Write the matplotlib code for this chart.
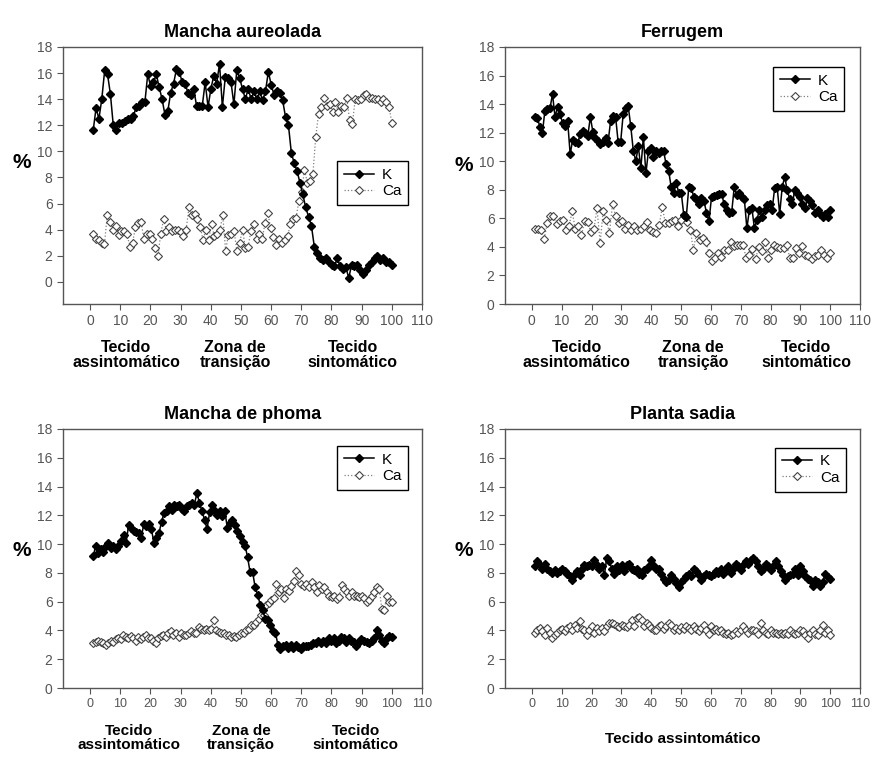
import numpy as np
import matplotlib
matplotlib.use("Agg")
import matplotlib.pyplot as plt
from matplotlib import font_manager

plt.rcParams['font.family'] = ['Liberation Sans', 'DejaVu Sans']

# ---- data ----
k_aureolada = [11.6, 13.3, 12.5, 14.0, 16.2, 15.9, 14.4, 12.0, 11.6, 12.2, 12.2, 12.3, 12.5, 12.5, 12.7,
               13.4, 13.5, 13.75, 13.75, 15.9, 15.0, 15.3, 15.9, 14.9, 14.0, 12.8, 13.1, 14.5, 15.2, 16.3,
               16.1, 15.3, 15.2, 14.5, 14.3, 14.8, 13.5, 13.5, 13.5, 15.3, 13.4, 14.8, 15.8, 15.2, 16.7,
               13.4, 15.7, 15.6, 15.3, 13.6, 16.2, 15.6, 14.8, 14.0, 14.8, 14.0, 14.6, 14.0, 14.6, 13.9,
               14.6, 16.1, 15.1, 14.3, 14.6, 14.5, 13.9, 12.6, 12.0, 9.9, 9.1, 8.5, 7.6, 6.7, 5.7,
               5.0, 4.3, 2.7, 2.2, 1.8, 1.7, 1.8, 1.5, 1.3, 1.2, 1.8, 1.2, 1.0, 1.1, 0.3,
               1.3, 1.2, 1.3, 0.9, 0.6, 0.9, 1.3, 1.5, 1.8, 2.0, 1.7, 1.8, 1.5, 1.5, 1.3]
ca_aureolada = [3.7, 3.3, 3.2, 3.0, 2.9, 5.1, 4.6, 4.0, 4.3, 3.6, 3.9, 3.9, 3.7, 2.7, 3.0,
                4.2, 4.5, 4.6, 3.3, 3.7, 3.7, 3.3, 2.6, 2.0, 3.7, 4.8, 3.9, 4.2, 3.9, 4.0,
                4.0, 3.8, 3.5, 4.0, 5.7, 5.1, 5.2, 4.8, 4.2, 3.2, 4.0, 3.2, 4.4, 3.5, 3.7,
                4.0, 5.1, 2.4, 3.6, 3.7, 3.9, 2.4, 3.0, 4.0, 2.6, 2.7, 3.9, 4.4, 3.3, 3.7,
                3.3, 4.5, 5.3, 4.1, 3.4, 2.8, 3.3, 3.0, 3.2, 3.5, 4.4, 4.8, 4.9, 6.2, 6.9,
                8.6, 7.6, 7.7, 8.3, 11.1, 12.9, 13.4, 14.1, 13.5, 13.6, 13.0, 13.75, 13.0, 13.5, 13.4,
                14.1, 12.4, 12.1, 14.0, 13.9, 14.0, 14.3, 14.4, 14.1, 14.1, 14.0, 14.0, 13.75, 14.0, 13.75,
                13.4, 12.2]

k_ferrugem = [13.1, 13.05, 12.4, 12.0, 13.55, 13.65, 13.7, 14.7, 13.1, 13.8, 13.3, 12.65, 12.5, 12.8, 10.5,
              11.5, 11.35, 11.3, 11.9, 12.1, 12.0, 11.8, 13.1, 12.05, 11.65, 11.4, 11.2, 11.35, 11.65, 11.3,
              12.8, 13.2, 13.1, 11.35, 11.35, 13.3, 13.75, 13.85, 12.45, 10.75, 10.0, 11.05, 9.5, 11.7, 9.15,
              10.7, 10.9, 10.3, 10.7, 10.6, 10.7, 10.7, 9.8, 9.35, 8.2, 7.8, 8.5, 7.8, 7.8, 6.25,
              6.1, 8.2, 8.1, 7.5, 7.35, 7.0, 7.4, 7.2, 6.4, 5.8, 7.5, 7.55, 7.6, 7.7, 7.7,
              7.0, 6.6, 6.4, 6.45, 8.2, 7.6, 7.8, 7.5, 7.35, 5.3, 6.6, 6.7, 5.3, 5.9, 6.6,
              6.1, 6.6, 6.9, 7.0, 6.6, 8.1, 8.2, 6.3, 8.2, 8.9, 7.95, 7.35, 7.0, 8.0, 7.8,
              7.5, 7.0, 6.7, 7.4, 7.2, 6.95, 6.4, 6.6, 6.3, 6.1, 6.3, 6.1, 6.55]
ca_ferrugem = [5.25, 5.25, 5.2, 4.55, 5.65, 6.15, 6.15, 5.6, 5.8, 5.9, 5.2, 5.45, 6.5, 5.25, 5.45,
               4.8, 5.8, 5.75, 5.05, 5.25, 6.7, 4.3, 6.5, 5.9, 4.95, 7.0, 6.15, 5.65, 5.8, 5.25,
               5.5, 5.2, 5.45, 5.2, 5.25, 5.45, 5.75, 5.2, 5.05, 5.0, 5.5, 6.8, 5.65, 5.65, 5.8,
               5.9, 5.45, 5.9, 6.2, 5.75, 5.2, 3.8, 4.95, 4.5, 4.65, 4.35, 3.6, 3.0, 3.25, 3.6,
               3.3, 3.8, 3.8, 4.35, 4.05, 4.15, 4.1, 4.1, 3.2, 3.4, 3.85, 3.15, 4.0, 3.7, 4.35,
               3.2, 3.8, 4.15, 4.0, 3.95, 3.95, 4.1, 3.25, 3.25, 3.9, 3.55, 4.05, 3.4, 3.35, 3.15,
               3.35, 3.4, 3.8, 3.4, 3.2, 3.6]

k_phoma = [9.15, 9.9, 9.4, 9.65, 9.45, 9.85, 10.1, 9.75, 9.9, 9.65, 9.9, 10.2, 10.6, 10.1, 11.3,
           11.1, 10.9, 10.85, 10.75, 10.45, 11.4, 11.25, 11.4, 11.05, 10.1, 10.4, 10.75, 11.55, 12.15, 12.3,
           12.65, 12.4, 12.75, 12.65, 12.75, 12.45, 12.3, 12.65, 12.7, 12.85, 12.75, 13.55, 12.85, 12.3, 11.7,
           11.05, 12.2, 12.7, 12.3, 12.05, 12.3, 11.95, 12.3, 11.15, 11.45, 11.7, 11.3, 10.9, 10.55, 10.15,
           9.9, 9.1, 8.05, 8.05, 7.0, 6.45, 5.8, 5.4, 4.8, 4.7, 4.35, 3.95, 3.85, 3.0, 2.7,
           2.9, 3.0, 2.75, 3.0, 2.8, 3.0, 2.85, 2.7, 2.9, 2.95, 2.9, 3.0, 3.15, 3.1, 3.25,
           3.15, 3.3, 3.15, 3.45, 3.25, 3.45, 3.1, 3.3, 3.55, 3.45, 3.2, 3.5, 3.3, 3.2, 2.95,
           3.2, 3.4, 3.3, 3.2, 3.15, 3.25, 3.45, 4.0, 3.65, 3.3, 3.1, 3.45, 3.6, 3.55]
ca_phoma = [3.15, 3.2, 3.25, 3.2, 3.15, 3.0, 3.15, 3.3, 3.2, 3.4, 3.45, 3.4, 3.65, 3.55, 3.45,
            3.6, 3.5, 3.3, 3.55, 3.4, 3.55, 3.65, 3.5, 3.45, 3.3, 3.1, 3.5, 3.6, 3.7, 3.55,
            3.8, 3.95, 3.7, 3.85, 3.55, 3.8, 3.65, 3.7, 3.85, 3.95, 3.85, 3.85, 4.25, 4.1, 4.0,
            4.1, 4.0, 4.1, 4.75, 4.0, 3.9, 3.8, 3.85, 3.7, 3.65, 3.55, 3.6, 3.55, 3.7, 3.8,
            3.85, 4.0, 4.1, 4.35, 4.35, 4.6, 4.8, 5.1, 5.05, 5.8, 5.9, 6.15, 6.25, 7.25, 6.65,
            6.9, 6.25, 6.9, 6.75, 7.1, 7.45, 8.15, 7.85, 7.25, 7.1, 7.25, 7.05, 7.4, 7.0, 6.65,
            7.15, 6.85, 7.0, 6.65, 6.4, 6.3, 6.4, 6.2, 6.3, 7.15, 6.9, 6.65, 6.4, 6.65, 6.4,
            6.4, 6.3, 6.4, 6.25, 6.0, 6.15, 6.4, 6.65, 7.05, 6.9, 5.5, 5.45, 6.4, 5.95, 5.95]

k_sadia = [8.45, 8.8, 8.55, 8.3, 8.65, 8.3, 8.15, 8.0, 8.2, 8.0, 8.1, 8.25, 8.1, 7.95, 7.75,
           7.5, 7.95, 8.15, 7.85, 8.3, 8.55, 8.45, 8.55, 8.5, 8.9, 8.55, 8.3, 8.5, 7.85, 9.05,
           8.8, 8.3, 7.95, 8.5, 8.2, 8.55, 8.1, 8.55, 8.65, 8.3, 8.2, 8.25, 7.95, 7.85, 8.2,
           8.3, 8.5, 8.9, 8.45, 8.25, 8.3, 7.95, 7.6, 7.4, 7.5, 7.85, 7.55, 7.3, 7.05, 7.4,
           7.55, 7.75, 7.95, 7.75, 8.3, 8.1, 7.85, 7.5, 7.75, 7.95, 7.85, 7.75, 7.95, 8.15, 8.0,
           8.3, 7.95, 8.3, 8.5, 8.0, 8.3, 8.65, 8.5, 8.2, 8.55, 8.8, 8.6, 8.9, 9.05, 8.8,
           8.5, 8.15, 8.3, 8.65, 8.5, 8.2, 8.5, 8.8, 8.45, 8.1, 7.85, 7.5, 7.75, 7.85, 7.95,
           8.25, 7.85, 8.45, 8.1, 7.8, 7.6, 7.5, 7.1, 7.5, 7.4, 7.1, 7.4, 7.95, 7.7, 7.55]
ca_sadia = [3.8, 4.05, 4.15, 3.95, 3.7, 4.15, 3.8, 3.5, 3.7, 3.8, 4.0, 4.1, 3.95, 4.15, 4.3,
            4.0, 4.4, 4.15, 4.65, 4.1, 4.0, 3.7, 4.0, 4.3, 3.8, 4.15, 3.95, 4.15, 3.95, 4.3,
            4.55, 4.5, 4.45, 4.3, 4.25, 4.4, 4.3, 4.25, 4.4, 4.75, 4.3, 4.85, 4.95, 4.75, 4.3,
            4.5, 4.4, 4.15, 4.0, 4.05, 4.3, 4.4, 4.1, 4.3, 4.5, 4.4, 4.05, 4.15, 4.05, 4.25,
            4.1, 4.3, 4.15, 4.0, 4.3, 4.1, 3.95, 4.15, 4.4, 4.05, 3.75, 4.3, 4.0, 4.1, 3.95,
            4.0, 3.8, 3.75, 3.8, 3.7, 3.75, 3.95, 3.85, 4.05, 4.3, 4.0, 3.85, 4.0, 4.05, 3.95,
            3.75, 4.5, 4.05, 3.85, 3.75, 4.0, 3.8, 3.85, 3.75, 3.85, 3.75, 3.8, 3.75, 4.0, 3.85,
            3.75, 3.85, 4.05, 3.95, 3.7, 3.5, 3.8, 4.05, 3.75, 3.65, 4.0, 4.4, 3.8, 4.05, 3.65]

titles = ['Mancha aureolada', 'Ferrugem', 'Mancha de phoma', 'Planta sadia']
zones = ['Tecido\nassintomático', 'Zona de\ntransição', 'Tecido\nsintomático']
xticks = list(range(0, 111, 10))
yticks = list(range(0, 19, 2))

# narrow face for the lower panels' bottom texts, if available
installed = {f.name for f in font_manager.fontManager.ttflist}
narrow = ['Liberation Sans Narrow'] if 'Liberation Sans Narrow' in installed else []
narrow_family = narrow + ['Liberation Sans', 'DejaVu Sans']

W, H = 883, 758
fig = plt.figure(figsize=(W / 100, H / 100), dpi=100)
fig.patch.set_facecolor('white')


def px_axes(left, top, right, bottom):
    return fig.add_axes([left / W, 1 - bottom / H, (right - left) / W, (bottom - top) / H])


def panel(ax, k, ca, title, ymin, legend_anchor, ylab_y, narrow_x=False):
    xk = np.linspace(1, 100, len(k))
    xc = np.linspace(1, 100, len(ca))
    ax.plot(xc, ca, linestyle=':', color='#808080', lw=0.9, marker='D', ms=4.3,
            mfc='white', mec='#444444', mew=0.8, label='Ca', zorder=2)
    ax.plot(xk, k, linestyle='-', color='black', lw=1.1, marker='D', ms=4.2,
            mfc='black', mec='black', label='K', zorder=3)
    ax.set_xlim(-9, 110)
    ax.set_ylim(ymin, 18)
    ax.set_xticks(xticks)
    ax.set_yticks(yticks)
    ax.tick_params(direction='out', length=4, width=0.8, colors='#555555',
                   labelsize=10, labelcolor='#555555', top=False, right=False)
    if narrow_x:
        for t in ax.get_xticklabels():
            t.set_family(narrow_family)
            t.set_fontsize(10.5 if narrow else 9)
    for s in ax.spines.values():
        s.set_color('#555555')
        s.set_linewidth(1.0)
    ax.set_title(title, fontsize=13, fontweight='bold', pad=7)
    ax.set_ylabel('%', fontsize=15, fontweight='bold', rotation=0, va='center', ha='center')
    ax.yaxis.set_label_coords(-0.115, ylab_y)
    h, l = ax.get_legend_handles_labels()
    leg = ax.legend(h[::-1], l[::-1], loc='upper right', bbox_to_anchor=legend_anchor,
                    fancybox=False, edgecolor='black', fontsize=11, handlelength=2.0,
                    borderpad=0.45, labelspacing=0.15, handletextpad=0.5, framealpha=1)
    leg.get_frame().set_linewidth(1.0)


def zone_labels(ax, xs, y, family=None, size=11.5):
    tr = ax.get_xaxis_transform()
    for x, t in zip(xs, zones):
        ax.text(x, y, t, transform=tr, ha='center', va='top', fontsize=size,
                fontweight='bold', linespacing=1.0, family=family)


ax1 = px_axes(63, 47, 422, 304)
panel(ax1, k_aureolada, ca_aureolada, titles[0], -1.7, (0.983, 0.585), 0.55)
zone_labels(ax1, [12, 48, 87], -0.14)

ax2 = px_axes(505, 47, 860, 304)
panel(ax2, k_ferrugem, ca_ferrugem, titles[1], 0, (0.977, 0.953), 0.54)
zone_labels(ax2, [15, 54, 92], -0.14)

ax3 = px_axes(63, 429, 422, 688)
panel(ax3, k_phoma, ca_phoma, titles[2], 0, (0.983, 0.965), 0.53, narrow_x=True)
zone_labels(ax3, [13, 50, 88], -0.14, family=narrow_family, size=12.5 if narrow else 11)

ax4 = px_axes(505, 429, 860, 688)
panel(ax4, k_sadia, ca_sadia, titles[3], 0, (0.983, 0.958), 0.53, narrow_x=True)
ax4.text(0.5, -0.17, 'Tecido assintomático', transform=ax4.transAxes, ha='center', va='top',
         fontsize=12.5 if narrow else 11, fontweight='bold', family=narrow_family)

fig.savefig('out.png', dpi=100, facecolor='white')
